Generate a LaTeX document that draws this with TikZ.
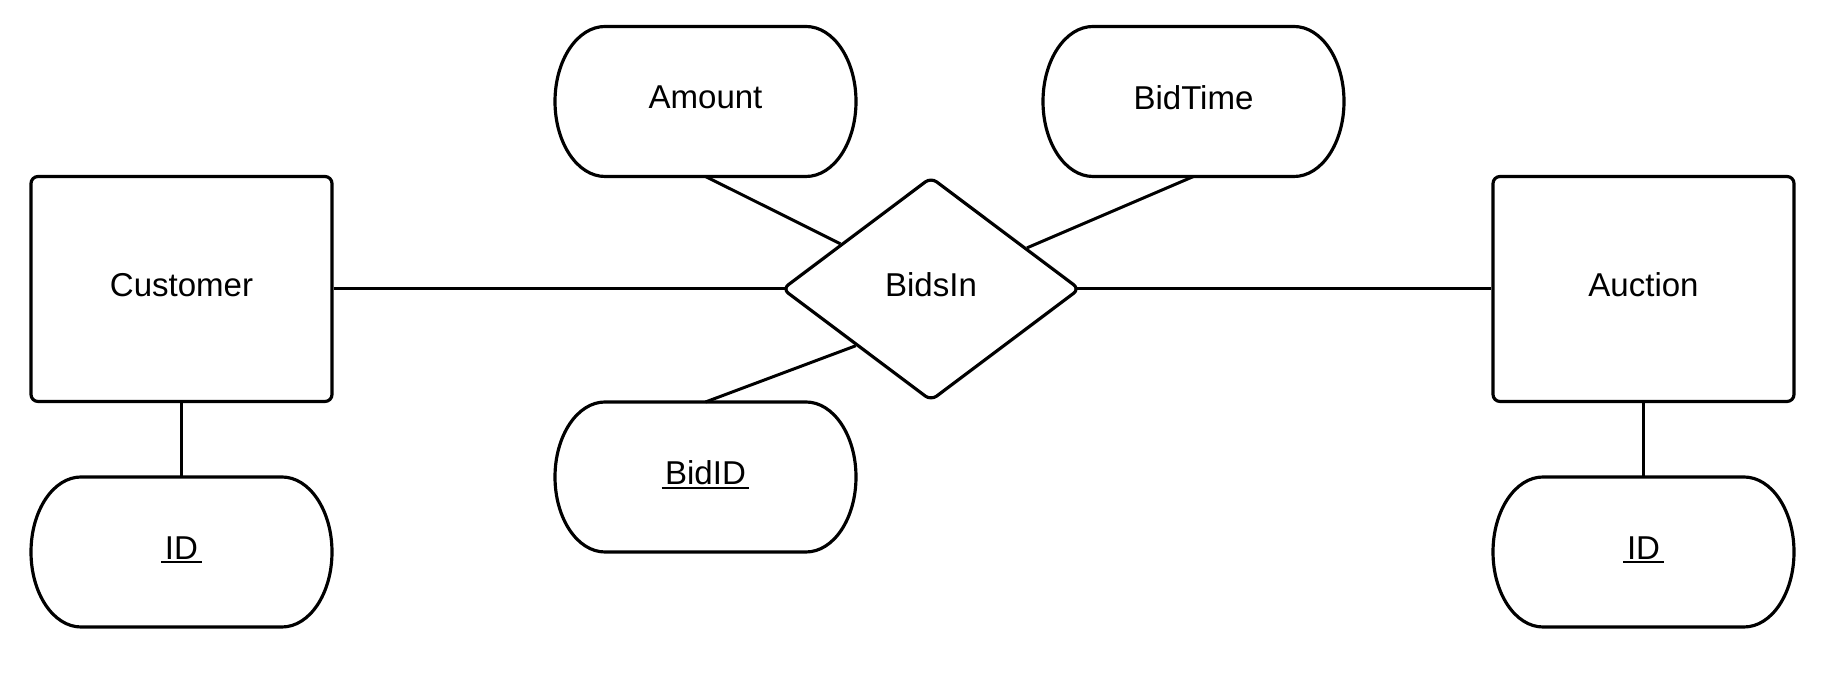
\documentclass[tikz,border=0pt]{standalone}
\usepackage{fontspec}
\setmainfont{Liberation Sans}
\usetikzlibrary{shapes.geometric}
\newcommand{\pk}[1]{\setbox0=\hbox{#1}\rlap{\kern-2pt\rule[-2.3pt]{\dimexpr\wd0+4pt\relax}{1.1pt}}\box0}
\newcommand{\attrline}[1]{\draw[line width=1.8pt] ([xshift=1cm]#1.north west) -- ([xshift=-1cm]#1.north east)
    arc[start angle=90, end angle=-90, x radius=1cm, y radius=1.5cm] -- ([xshift=1cm]#1.south west)
    arc[start angle=270, end angle=90, x radius=1cm, y radius=1.5cm] -- cycle;}
\tikzset{
    every node/.style={text depth=0.16cm},
    entity/.style={draw, rectangle, rounded corners=4pt, line width=1.8pt, minimum width=6.02cm, minimum height=4.5cm},
    attr/.style={rectangle, outer sep=0pt, minimum width=6.02cm, minimum height=3cm},
    relation/.style={draw, diamond, rounded corners=4pt, line width=1.8pt, minimum width=5.96cm, minimum height=4.48cm},
    link/.style={line width=1.7pt}
}
\begin{document}
\begin{tikzpicture}[font=\fontsize{18.8}{22}\selectfont]
        \useasboundingbox (0,0) rectangle (36.6,13.52);

        \node[entity] (customer) at (3.63, 7.74) {Customer};
        \node[entity] (auction) at (32.87, 7.74) {Auction};
        \node[relation] (bidsin) at (18.62, 7.74) {BidsIn};

        \node[attr] (customerid) at (3.63, 2.48) {\pk{ID}};
        \node[attr] (auctionid) at (32.87, 2.48) {\pk{ID}};
        \node[attr] (amount) at (14.11, 11.49) {Amount};
        \node[attr] (bidtime) at (23.87, 11.49) {BidTime};
        \node[attr] (bidid) at (14.11, 3.98) {\pk{BidID}};

        \foreach \n in {customerid, auctionid, amount, bidtime, bidid}
            \attrline{\n};

        \draw[link, shorten >=-2.5pt] (customer.east) -- (bidsin.west);
        \draw[link, shorten <=-2.5pt] (bidsin.east) -- (auction.west);
        \draw[link] (amount.south) -- (bidsin);
        \draw[link] (bidtime.south) -- (bidsin);
        \draw[link] (bidid.north) -- (bidsin.south west);
        \draw[link] (customer.south) -- (customerid.north);
        \draw[link] (auction.south) -- (auctionid.north);
\end{tikzpicture}
\end{document}
